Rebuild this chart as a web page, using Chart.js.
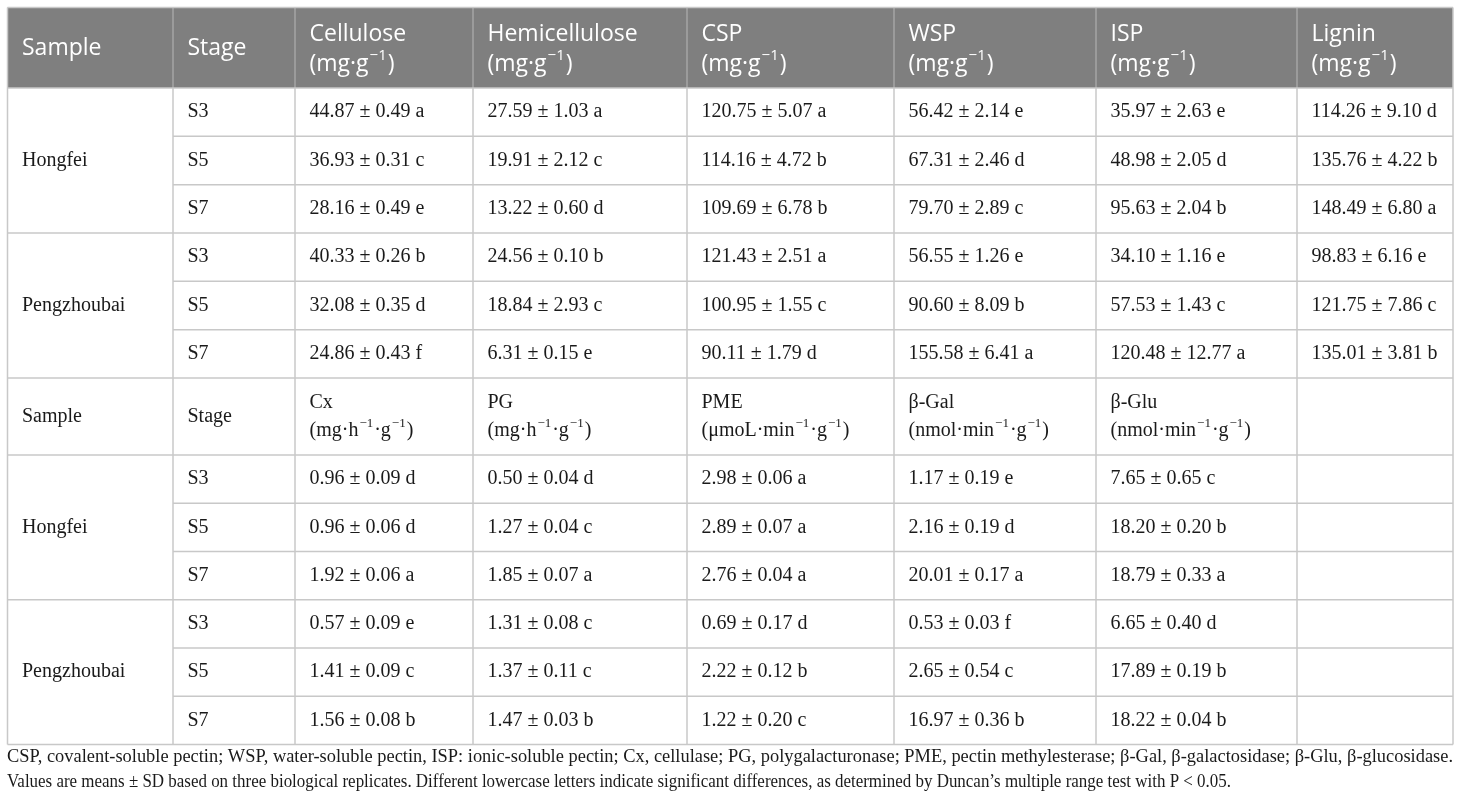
<!DOCTYPE html>
<html>
<head>
<meta charset="utf-8">
<script src="https://cdn.jsdelivr.net/npm/chart.js@4/dist/chart.umd.min.js"></script>
<style>
  html, body { margin: 0; padding: 0; background: #ffffff; }
  #wrap { width: 1460px; height: 807px; }
</style>
</head>
<body>
<div id="wrap"><canvas id="c" width="1460" height="807"></canvas></div>
<script>
// ---------- DATA ----------
const samples = ['Hongfei', 'Pengzhoubai'];
const stages = ['S3', 'S5', 'S7'];

// Section 1 headers
const headers1 = ['Cellulose', 'Hemicellulose', 'CSP', 'WSP', 'ISP', 'Lignin'];
const units1 = ['(mg·g^{−1})', '(mg·g^{−1})', '(mg·g^{−1})', '(mg·g^{−1})', '(mg·g^{−1})', '(mg·g^{−1})'];
// Section 2 headers
const headers2 = ['Cx', 'PG', 'PME', 'β-Gal', 'β-Glu'];
const units2 = ['(mg·h^{−1}·g^{−1})', '(mg·h^{−1}·g^{−1})', '(μmoL·min^{−1}·g^{−1})', '(nmol·min^{−1}·g^{−1})', '(nmol·min^{−1}·g^{−1})'];

// values: [mean, SD, letter] for Hongfei S3,S5,S7 then Pengzhoubai S3,S5,S7
const cellulose = [[44.87,0.49,'a'],[36.93,0.31,'c'],[28.16,0.49,'e'],[40.33,0.26,'b'],[32.08,0.35,'d'],[24.86,0.43,'f']];
const hemicellulose = [[27.59,1.03,'a'],[19.91,2.12,'c'],[13.22,0.60,'d'],[24.56,0.10,'b'],[18.84,2.93,'c'],[6.31,0.15,'e']];
const csp = [[120.75,5.07,'a'],[114.16,4.72,'b'],[109.69,6.78,'b'],[121.43,2.51,'a'],[100.95,1.55,'c'],[90.11,1.79,'d']];
const wsp = [[56.42,2.14,'e'],[67.31,2.46,'d'],[79.70,2.89,'c'],[56.55,1.26,'e'],[90.60,8.09,'b'],[155.58,6.41,'a']];
const isp = [[35.97,2.63,'e'],[48.98,2.05,'d'],[95.63,2.04,'b'],[34.10,1.16,'e'],[57.53,1.43,'c'],[120.48,12.77,'a']];
const lignin = [[114.26,9.10,'d'],[135.76,4.22,'b'],[148.49,6.80,'a'],[98.83,6.16,'e'],[121.75,7.86,'c'],[135.01,3.81,'b']];

const cx = [[0.96,0.09,'d'],[0.96,0.06,'d'],[1.92,0.06,'a'],[0.57,0.09,'e'],[1.41,0.09,'c'],[1.56,0.08,'b']];
const pg = [[0.50,0.04,'d'],[1.27,0.04,'c'],[1.85,0.07,'a'],[1.31,0.08,'c'],[1.37,0.11,'c'],[1.47,0.03,'b']];
const pme = [[2.98,0.06,'a'],[2.89,0.07,'a'],[2.76,0.04,'a'],[0.69,0.17,'d'],[2.22,0.12,'b'],[1.22,0.20,'c']];
const betaGal = [[1.17,0.19,'e'],[2.16,0.19,'d'],[20.01,0.17,'a'],[0.53,0.03,'f'],[2.65,0.54,'c'],[16.97,0.36,'b']];
const betaGlu = [[7.65,0.65,'c'],[18.20,0.20,'b'],[18.79,0.33,'a'],[6.65,0.40,'d'],[17.89,0.19,'b'],[18.22,0.04,'b']];

const section1 = [cellulose, hemicellulose, csp, wsp, isp, lignin];
const section2 = [cx, pg, pme, betaGal, betaGlu];

const captionLines = [
  'CSP, covalent-soluble pectin; WSP, water-soluble pectin, ISP: ionic-soluble pectin; Cx, cellulase; PG, polygalacturonase; PME, pectin methylesterase; β-Gal, β-galactosidase; β-Glu, β-glucosidase.',
  'Values are means ± SD based on three biological replicates. Different lowercase letters indicate significant differences, as determined by Duncan’s multiple range test with P < 0.05.'
];

// ---------- LAYOUT (scale units) ----------
const W = 1460, H = 807;
const colEdges = [7.5, 173, 295, 473, 687, 894, 1096, 1297, 1453];
const head1 = [7.5, 88];
const body1Top = 88, body1Bottom = 378;
const head2 = [378, 455];
const body2Top = 455, body2Bottom = 744.5;
const padX = 14.5;
const captionRight = [1453, 1231];
const SANS = '"Open Sans", "Noto Sans", sans-serif';
const SERIF = '"Liberation Serif", "Times New Roman", serif';
const HEAD_BG = '#7f7f7f';
const GRID = '#c8c8c8';
const HEAD_SEP = '#a4a4a4';

function fmt(v) { return v[0].toFixed(2) + ' ± ' + v[1].toFixed(2) + ' ' + v[2]; }

function parseRich(s) {
  const segs = [];
  const re = /\^\{([^}]*)\}/g;
  let last = 0, m;
  while ((m = re.exec(s)) !== null) {
    if (m.index > last) segs.push({ t: s.slice(last, m.index), sup: false });
    segs.push({ t: m[1], sup: true });
    last = re.lastIndex;
  }
  if (last < s.length) segs.push({ t: s.slice(last), sup: false });
  return segs;
}

function drawRich(ctx, s, x, y, family, size, color) {
  const segs = parseRich(s);
  ctx.fillStyle = color;
  ctx.textBaseline = 'middle';
  ctx.textAlign = 'left';
  let cx0 = x;
  for (const sg of segs) {
    if (sg.sup) {
      const ss = Math.round(size * 0.64);
      ctx.font = ss + 'px ' + family;
      ctx.fillText(sg.t, cx0 + 1, y - size * 0.36);
      cx0 += ctx.measureText(sg.t).width + 2;
    } else {
      ctx.font = size + 'px ' + family;
      ctx.fillText(sg.t, cx0, y);
      cx0 += ctx.measureText(sg.t).width;
    }
  }
}

const tablePlugin = {
  id: 'tablePlugin',
  afterDraw(chart) {
    const ctx = chart.ctx;
    const X = v => chart.scales.x.getPixelForValue(v);
    const Y = v => chart.scales.y.getPixelForValue(v);
    const L = X(colEdges[0]), R = X(colEdges[colEdges.length - 1]);
    ctx.save();

    // header 1 background
    ctx.fillStyle = HEAD_BG;
    ctx.fillRect(L, Y(head1[0]), R - L, Y(head1[1]) - Y(head1[0]));

    const rowH1 = (body1Bottom - body1Top) / 6;
    const rowH2 = (body2Bottom - body2Top) / 6;

    ctx.lineWidth = 1.5;
    ctx.strokeStyle = GRID;
    const hline = (y, x0, x1) => { ctx.beginPath(); ctx.moveTo(X(x0), Y(y)); ctx.lineTo(X(x1), Y(y)); ctx.stroke(); };
    const vline = (x, y0, y1) => { ctx.beginPath(); ctx.moveTo(X(x), Y(y0)); ctx.lineTo(X(x), Y(y1)); ctx.stroke(); };

    // header 1 separators (lighter on dark)
    ctx.strokeStyle = HEAD_SEP;
    for (let i = 1; i < colEdges.length - 1; i++) vline(colEdges[i], head1[0], head1[1]);
    ctx.strokeStyle = GRID;

    for (let i = 0; i < colEdges.length; i++) vline(colEdges[i], head1[1], body2Bottom);
    vline(colEdges[0], head1[0], head1[1]);
    vline(colEdges[colEdges.length - 1], head1[0], head1[1]);

    hline(head1[0], colEdges[0], colEdges[8]);
    hline(head1[1], colEdges[0], colEdges[8]);
    for (let r = 1; r < 6; r++) {
      const y = body1Top + r * rowH1;
      hline(y, r === 3 ? colEdges[0] : colEdges[1], colEdges[8]);
    }
    hline(body1Bottom, colEdges[0], colEdges[8]);
    hline(head2[1], colEdges[0], colEdges[8]);
    for (let r = 1; r < 6; r++) {
      const y = body2Top + r * rowH2;
      hline(y, r === 3 ? colEdges[0] : colEdges[1], colEdges[8]);
    }
    hline(body2Bottom, colEdges[0], colEdges[8]);

    // header 1 texts
    const hs = 23;
    drawRich(ctx, 'Sample', X(colEdges[0] + padX), Y(48.5), SANS, hs, '#ffffff');
    drawRich(ctx, 'Stage', X(colEdges[1] + padX), Y(48.5), SANS, hs, '#ffffff');
    headers1.forEach((h, i) => {
      drawRich(ctx, h, X(colEdges[i + 2] + padX), Y(34), SANS, hs, '#ffffff');
      drawRich(ctx, units1[i], X(colEdges[i + 2] + padX), Y(64), SANS, hs, '#ffffff');
    });

    const bs = 20;
    const ink = '#1a1a1a';
    const drawSection = (top, rowH, data) => {
      samples.forEach((s, si) => {
        const gTop = top + si * 3 * rowH;
        drawRich(ctx, s, X(colEdges[0] + padX), Y(gTop + 1.5 * rowH), SERIF, bs, ink);
        stages.forEach((st, ti) => {
          const yc = gTop + (ti + 0.5) * rowH;
          drawRich(ctx, st, X(colEdges[1] + padX), Y(yc), SERIF, bs, ink);
          data.forEach((col, ci) => {
            drawRich(ctx, fmt(col[si * 3 + ti]), X(colEdges[ci + 2] + padX), Y(yc), SERIF, bs, ink);
          });
        });
      });
    };
    drawSection(body1Top, rowH1, section1);

    // header 2 (white background, serif)
    drawRich(ctx, 'Sample', X(colEdges[0] + padX), Y(417), SERIF, bs, ink);
    drawRich(ctx, 'Stage', X(colEdges[1] + padX), Y(417), SERIF, bs, ink);
    headers2.forEach((h, i) => {
      drawRich(ctx, h, X(colEdges[i + 2] + padX), Y(403), SERIF, bs, ink);
      drawRich(ctx, units2[i], X(colEdges[i + 2] + padX), Y(431), SERIF, bs, ink);
    });

    drawSection(body2Top, rowH2, section2);

    // caption (each line fitted to its measured width)
    const cs = 18;
    ctx.font = cs + 'px ' + SERIF;
    ctx.fillStyle = ink;
    ctx.textBaseline = 'middle';
    ctx.textAlign = 'left';
    captionLines.forEach((line, i) => {
      const w = ctx.measureText(line).width;
      const target = X(captionRight[i]) - X(colEdges[0] - 0.5);
      ctx.save();
      ctx.translate(X(colEdges[0] - 0.5), Y(757.5 + i * 24.5));
      ctx.scale(target / w, 1);
      ctx.fillText(line, 0, 0);
      ctx.restore();
    });

    ctx.restore();
  }
};

new Chart(document.getElementById('c').getContext('2d'), {
  type: 'scatter',
  data: { datasets: [] },
  options: {
    responsive: false,
    animation: false,
    layout: { padding: 0 },
    plugins: { legend: { display: false }, tooltip: { enabled: false } },
    scales: {
      x: { type: 'linear', min: 0, max: W, display: false },
      y: { type: 'linear', min: 0, max: H, reverse: true, display: false }
    }
  },
  plugins: [tablePlugin]
});
</script>
</body>
</html>
